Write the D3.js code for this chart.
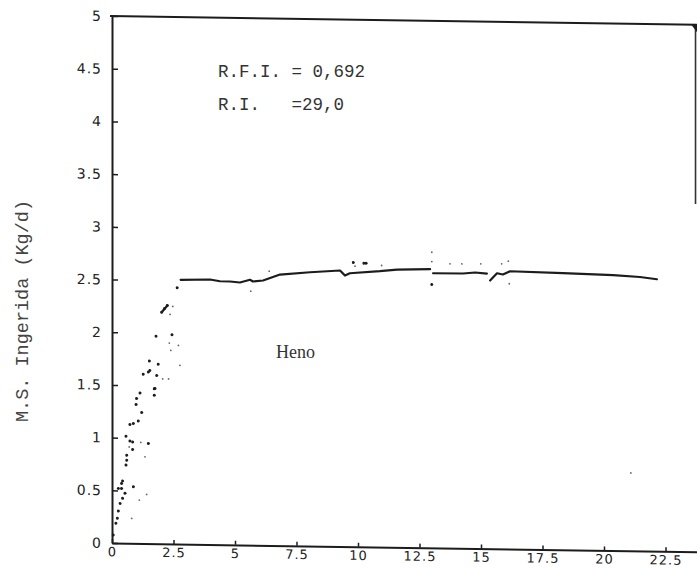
<!DOCTYPE html>
<html>
<head>
<meta charset="utf-8">
<script src="https://cdn.jsdelivr.net/npm/d3@7"></script>
<style>
  html, body { margin: 0; padding: 0; background: #fff; }
  svg { display: block; }
  text { white-space: pre; }
</style>
</head>
<body>
<svg id="chart" width="697" height="570"></svg>
<script>
// Dry matter intake (kg/d) against days, hay ration ("Heno")
const xTicks = [0, 2.5, 5, 7.5, 10, 12.5, 15, 17.5, 20, 22.5];
const xTickLabels = ["0", "2.5", "5", "7.5", "10", "12.5", "15", "17.5", "20", "22.5"];
const yTicks = [0, 0.5, 1, 1.5, 2, 2.5, 3, 3.5, 4, 4.5, 5];
const yTickLabels = ["0", "0.5", "1", "1.5", "2", "2.5", "3", "3.5", "4", "4.5", "5"];

// Daily observations (day, intake), dark dots
const obsDay = [2.65, 2.02, 2.13, 2.25, 1.79, 2.44, 1.52, 1.88, 1.27, 1.48, 1.54, 1.82,
  1.75, 1.14, 1.00, 1.72, 1.72, 0.98, 1.21, 1.07, 0.73, 0.87, 0.57, 0.73, 0.84, 1.48,
  0.84, 0.60, 0.60, 0.57, 0.43, 0.39, 0.87, 0.26, 0.39, 0.53, 0.43, 0.33, 0.26, 0.16,
  0.05, 0.22, 13.00, 9.81, 10.24, 10.33];
const obsIntake = [2.431, 2.197, 2.230, 2.262, 1.969, 1.985, 1.732, 1.702, 1.605, 1.627,
  1.643, 1.596, 1.473, 1.427, 1.374, 1.470, 1.407, 1.317, 1.242, 1.162, 1.127, 1.137,
  1.015, 0.971, 0.962, 0.949, 0.890, 0.835, 0.788, 0.741, 0.589, 0.567, 0.536, 0.519,
  0.519, 0.473, 0.425, 0.377, 0.304, 0.187, 0.076, 0.235, 2.498, 2.695, 2.690, 2.691];

// Lighter, scattered observations
const faintDay = [2.47, 2.36, 2.33, 2.70, 2.39, 2.76, 2.06, 2.30, 0.70, 1.34, 1.17,
  1.41, 1.11, 0.80, 6.39, 5.64, 9.88, 10.96, 13.00, 13.00, 13.74, 14.22, 14.99, 15.84,
  16.11, 16.15, 21.09];
const faintIntake = [2.253, 2.177, 1.905, 1.884, 1.836, 1.695, 1.564, 1.565, 0.914,
  0.822, 0.958, 0.466, 0.411, 0.236, 2.601, 2.409, 2.661, 2.671, 2.804, 2.716, 2.697,
  2.698, 2.701, 2.704, 2.730, 2.516, 0.739];

// Fitted intake curve, plateau phase, in three traced pieces
const fitDayA = [2.79, 3.98, 4.39, 4.80, 5.20, 5.61, 5.73, 6.14, 6.83, 8.05, 9.27, 9.47,
  9.67, 10.89, 11.59, 12.93];
const fitIntakeA = [2.507, 2.514, 2.499, 2.498, 2.490, 2.517, 2.501, 2.512, 2.571, 2.597,
  2.618, 2.571, 2.593, 2.617, 2.635, 2.643];
const fitDayB = [13.05, 14.27, 14.76, 15.24];
const fitIntakeB = [2.605, 2.607, 2.618, 2.610];
const fitDayC = [15.37, 15.65, 15.89, 16.18, 18.33, 20.37, 21.46, 22.15];
const fitIntakeC = [2.544, 2.614, 2.603, 2.635, 2.624, 2.612, 2.599, 2.580];

// Short steep dash at the end of the rising phase
const dashDay = [2.02, 2.25];
const dashIntake = [2.197, 2.262];

const svg = d3.select("#chart");
const x = d3.scaleLinear().domain([0, 23.78]).range([112, 697]);
const y = d3.scaleLinear().domain([0, 5]).range([543, 16]);

// The printed frame leans slightly downward to the right
const lean = 0.015;
const plot = svg.append("g")
  .attr("transform", `matrix(1,${lean},0,1,0,${-lean * x(0)})`);

const ink = "#1c1c1c";

// Frame: top edge and partial right edge
plot.append("line")
  .attr("x1", x(0) - 2).attr("x2", x(23.78))
  .attr("y1", y(5)).attr("y2", y(5))
  .attr("stroke", ink).attr("stroke-width", 2);
plot.append("line")
  .attr("x1", x(23.72)).attr("x2", x(23.72))
  .attr("y1", y(5)).attr("y2", y(3.3))
  .attr("stroke", "#333").attr("stroke-width", 1.6);
plot.append("path")
  .attr("d", `M${x(23.55)},${y(5)} L${x(23.78)},${y(5)} L${x(23.78)},${y(4.93)} Z`)
  .attr("fill", ink);

// Axes
const yAxis = d3.axisLeft(y)
  .tickValues(yTicks)
  .tickFormat((d, i) => yTickLabels[i])
  .tickSizeInner(-6).tickSizeOuter(0).tickPadding(10);
const gy = plot.append("g").attr("transform", `translate(${x(0)},0)`).call(yAxis);

const xAxis = d3.axisBottom(x)
  .tickValues(xTicks)
  .tickFormat((d, i) => xTickLabels[i])
  .tickSizeInner(-4).tickSizeOuter(0).tickPadding(4);
const gx = plot.append("g").attr("transform", `translate(0,${y(0)})`).call(xAxis);

[gx, gy].forEach(g => {
  g.select(".domain").attr("stroke", ink).attr("stroke-width", 2);
  g.selectAll(".tick line").attr("stroke", ink).attr("stroke-width", 1.5);
  g.selectAll(".tick text")
    .attr("fill", "#222")
    .attr("font-family", "'DejaVu Sans', sans-serif")
    .attr("letter-spacing", 1);
});
gy.selectAll(".tick text").attr("font-size", 14);
gx.selectAll(".tick text").attr("font-size", 13);

// Observations
const obs = obsDay.map((d, i) => [d, obsIntake[i]]);
const faint = faintDay.map((d, i) => [d, faintIntake[i]]);

plot.append("g").selectAll("circle").data(faint).join("circle")
  .attr("cx", d => x(d[0])).attr("cy", d => y(d[1]))
  .attr("r", 0.9).attr("fill", "#666");

plot.append("g").selectAll("circle").data(obs).join("circle")
  .attr("cx", d => x(d[0])).attr("cy", d => y(d[1]))
  .attr("r", 1.5).attr("fill", ink);

const line = d3.line().x(d => x(d[0])).y(d => y(d[1])).curve(d3.curveLinear);

plot.append("path")
  .datum(dashDay.map((d, i) => [d, dashIntake[i]]))
  .attr("d", line).attr("fill", "none")
  .attr("stroke", ink).attr("stroke-width", 2.2).attr("stroke-linecap", "round");

[[fitDayA, fitIntakeA], [fitDayB, fitIntakeB], [fitDayC, fitIntakeC]].forEach(([ds, vs]) => {
  plot.append("path")
    .datum(ds.map((d, i) => [d, vs[i]]))
    .attr("d", line).attr("fill", "none")
    .attr("stroke", ink).attr("stroke-width", 2.2)
    .attr("stroke-linejoin", "round").attr("stroke-linecap", "round");
});

// Annotations
const mono = "'Liberation Mono', 'DejaVu Sans Mono', monospace";
svg.append("text")
  .attr("x", 218).attr("y", 77)
  .attr("font-family", mono).attr("font-size", 17.5).attr("fill", "#333")
  .text("R.F.I. = 0,692");
svg.append("text")
  .attr("x", 218).attr("y", 110)
  .attr("font-family", mono).attr("font-size", 17.5).attr("fill", "#333")
  .text("R.I.   =29,0");
svg.append("text")
  .attr("x", 276).attr("y", 358)
  .attr("font-family", "'Liberation Serif', serif").attr("font-size", 18).attr("fill", "#333")
  .text("Heno");

// Y axis title
svg.append("text")
  .attr("transform", "translate(28,311) rotate(-90)")
  .attr("text-anchor", "middle")
  .attr("font-family", mono).attr("font-size", 18.5).attr("fill", "#444")
  .text("M.S. Ingerida (Kg/d)");
</script>
</body>
</html>
